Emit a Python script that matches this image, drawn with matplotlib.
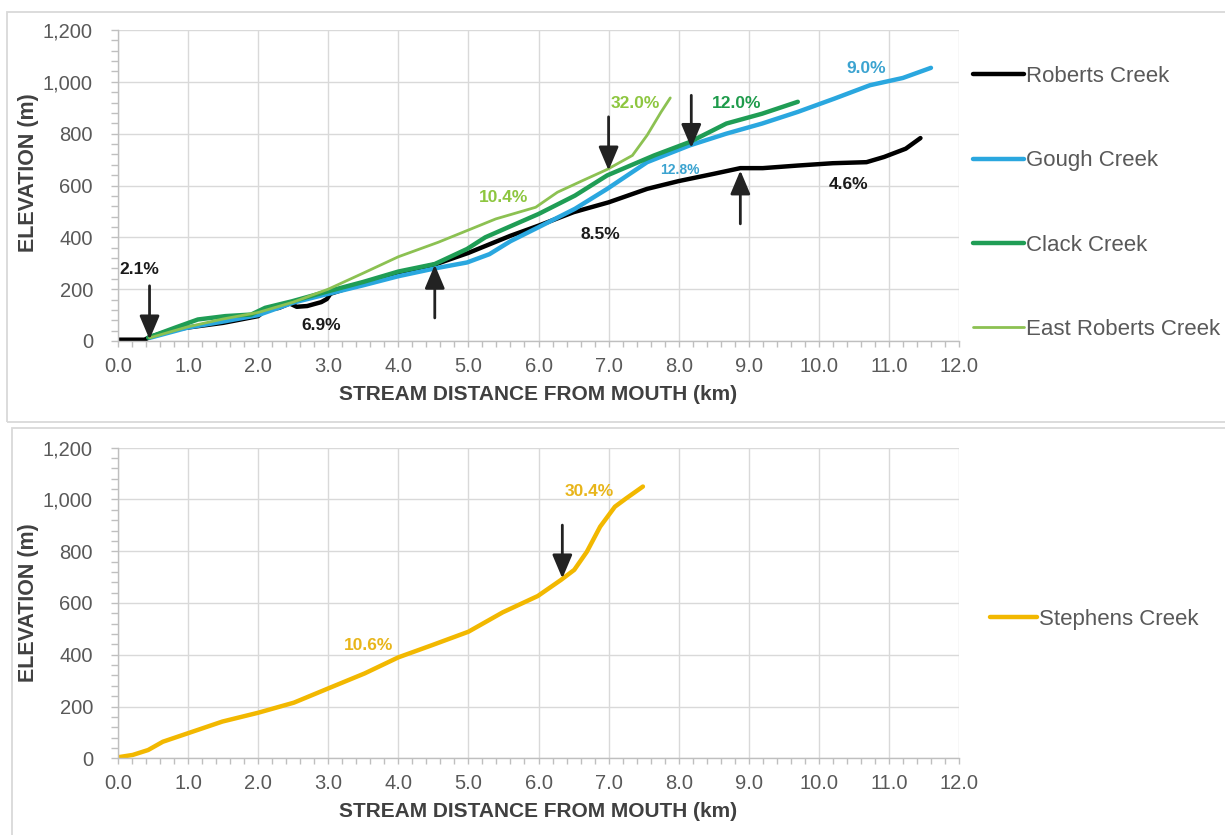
import matplotlib
matplotlib.use("Agg")
import matplotlib.pyplot as plt
from matplotlib.patches import Rectangle
from matplotlib.ticker import MultipleLocator, FuncFormatter

plt.rcParams['font.family'] = ['Liberation Sans', 'DejaVu Sans']

# ---------------- data (km, m) ----------------
roberts_km = [0.0, 0.38, 0.45, 0.8, 1.0, 1.5, 2.0, 2.1, 2.3, 2.45, 2.55, 2.7, 2.9, 2.98, 3.03,
              3.5, 4.0, 4.52, 5.0, 5.6, 6.0, 6.5, 7.0, 7.55, 8.0, 8.5, 8.88, 9.2, 9.7, 10.2,
              10.68, 10.93, 11.24, 11.45]
roberts_m = [5, 5, 15, 45, 52, 70, 96, 118, 128, 145, 132, 135, 150, 162, 182,
             224, 262, 295, 340, 406, 445, 497, 535, 587, 617, 645, 667, 667, 677, 686,
             690, 710, 742, 783]

gough_km = [0.45, 1.0, 1.5, 2.0, 2.5, 3.0, 3.5, 4.0, 4.52, 4.98, 5.3, 5.6, 6.0, 6.52, 6.98,
            7.55, 8.16, 8.68, 9.19, 9.7, 10.22, 10.73, 11.2, 11.6]
gough_m = [12, 52, 75, 100, 148, 182, 215, 250, 280, 303, 335, 385, 439, 510, 587,
           690, 755, 800, 839, 884, 935, 987, 1015, 1054]

clack_km = [0.43, 0.81, 1.14, 1.53, 1.9, 2.1, 2.48, 3.0, 3.5, 4.0, 4.52, 4.98, 5.24, 6.0,
            6.52, 6.98, 7.65, 8.16, 8.68, 9.19, 9.7]
clack_m = [13, 51, 83, 96, 102, 128, 153, 192, 228, 268, 297, 355, 400, 490,
           561, 639, 716, 768, 839, 877, 923]

east_km = [0.45, 1.0, 1.5, 2.0, 2.5, 3.0, 3.5, 4.0, 4.57, 4.98, 5.39, 5.96, 6.27, 6.63,
           6.98, 7.34, 7.55, 7.75, 7.88]
east_m = [12, 55, 85, 110, 150, 200, 262, 325, 381, 426, 471, 516, 574, 619,
          662, 716, 794, 884, 938]

stephens_km = [0.0, 0.21, 0.43, 0.64, 1.0, 1.49, 2.0, 2.51, 3.0, 3.52, 4.0, 4.48, 5.0,
               5.49, 5.99, 6.32, 6.51, 6.69, 6.88, 7.09, 7.25, 7.49]
stephens_m = [4, 13, 32, 64, 97, 142, 176, 215, 270, 328, 390, 437, 489,
              564, 627, 689, 728, 798, 895, 972, 1004, 1050]

# annotations: (text, km, m, color, size)
top_labels = [("2.1%", 0.31, 275, "#1a1a1a", 12.5),
              ("6.9%", 2.90, 58, "#1a1a1a", 12.5),
              ("10.4%", 5.50, 555, "#8dc63f", 12.5),
              ("8.5%", 6.88, 410, "#1a1a1a", 12.5),
              ("32.0%", 7.38, 916, "#8dc63f", 12.5),
              ("12.0%", 8.83, 916, "#1e9b4b", 12.5),
              ("12.8%", 8.02, 658, "#3ba3d0", 10),
              ("4.6%", 10.42, 604, "#1a1a1a", 12.5),
              ("9.0%", 10.68, 1052, "#3ba3d0", 12.5)]
# arrows: (tail_km, tail_m, tip_km, tip_m)
top_arrows = [(0.45, 213, 0.45, 6),
              (4.52, 89, 4.52, 294),
              (7.00, 865, 7.00, 658),
              (8.18, 948, 8.18, 745),
              (8.88, 452, 8.88, 658)]
bottom_labels = [("10.6%", 3.58, 435, "#e8b51a", 12.5),
                 ("30.4%", 6.72, 1030, "#e8b51a", 12.5)]
bottom_arrows = [(6.34, 901, 6.34, 695)]

series_top = [("Roberts Creek", roberts_km, roberts_m, "#000000", 3.2),
              ("Gough Creek", gough_km, gough_m, "#2aa7df", 3.2),
              ("Clack Creek", clack_km, clack_m, "#1f9d55", 3.2),
              ("East Roberts Creek", east_km, east_m, "#8cc152", 2.0)]
series_bottom = [("Stephens Creek", stephens_km, stephens_m, "#f2b800", 3.2)]

W, H = 1225, 835
fig = plt.figure(figsize=(W / 100, H / 100), dpi=100)

# panel frames
fig.add_artist(Rectangle((7 / W, 1 - 422 / H), (1240 - 7) / W, (422 - 12) / H,
                         transform=fig.transFigure, fill=False, ec="#d9d9d9", lw=1.3))
fig.add_artist(Rectangle((12 / W, 1 - 850 / H), (1240 - 12) / W, (850 - 428) / H,
                         transform=fig.transFigure, fill=False, ec="#d9d9d9", lw=1.3))

left, right = 118, 959
ax1 = fig.add_axes([left / W, 1 - 341 / H, (right - left) / W, (341 - 30) / H])
ax2 = fig.add_axes([left / W, 1 - 758.3 / H, (right - left) / W, (758.3 - 447.7) / H])

fmt = FuncFormatter(lambda v, p: f"{int(v):,}")

def style(ax, yl_y):
    ax.set_xlim(0, 12)
    ax.set_ylim(0, 1200)
    ax.xaxis.set_major_locator(MultipleLocator(1))
    ax.xaxis.set_minor_locator(MultipleLocator(0.2))
    ax.yaxis.set_major_locator(MultipleLocator(200))
    ax.yaxis.set_minor_locator(MultipleLocator(40))
    ax.xaxis.set_major_formatter(FuncFormatter(lambda v, p: f"{v:.1f}"))
    ax.yaxis.set_major_formatter(fmt)
    ax.grid(True, which="major", color="#d9d9d9", lw=1.0)
    ax.set_axisbelow(True)
    for s in ["top", "right"]:
        ax.spines[s].set_visible(False)
    for s in ["left", "bottom"]:
        ax.spines[s].set_color("#bfbfbf")
        ax.spines[s].set_linewidth(1.0)
    ax.tick_params(axis="y", which="both", direction="out", length=5, width=1,
                   color="#bfbfbf", labelsize=14.5, labelcolor="#595959", pad=13)
    ax.tick_params(axis="x", which="both", direction="out", length=4.5, width=1,
                   color="#bfbfbf", labelsize=14.5, labelcolor="#595959", pad=7)
    ax.set_xlabel("STREAM DISTANCE FROM MOUTH (km)", fontsize=15, fontweight="bold",
                  color="#404040")
    ax.xaxis.set_label_coords(0.5, -0.14)
    ax.set_ylabel("ELEVATION (m)", fontsize=15.5, fontweight="bold", color="#404040")
    ax.yaxis.set_label_coords(-0.094, yl_y)

style(ax1, 0.54)
style(ax2, 0.50)

for name, xs, ys, c, lw in series_top:
    ax1.plot(xs, ys, color=c, lw=lw, label=name, solid_capstyle="round")
for name, xs, ys, c, lw in series_bottom:
    ax2.plot(xs, ys, color=c, lw=lw, label=name, solid_capstyle="round")

def annotate(ax, labels, arrows):
    for t, x, y, c, s in labels:
        ax.text(x, y, t, color=c, fontsize=s, fontweight="bold", ha="center", va="center")
    for x0, y0, x1, y1 in arrows:
        ax.annotate("", xy=(x1, y1), xytext=(x0, y0),
                    arrowprops=dict(arrowstyle="-|>,head_length=0.9,head_width=0.38",
                                    color="#222222", lw=2.0, mutation_scale=16,
                                    shrinkA=0, shrinkB=0))

annotate(ax1, top_labels, top_arrows)
annotate(ax2, bottom_labels, bottom_arrows)

leg1 = ax1.legend(loc="upper left", bbox_to_anchor=((973 - left) / (right - left), (341 - 66) / 311),
                  frameon=False, fontsize=16, handlelength=2.3, handletextpad=0.1,
                  labelspacing=2.85, borderpad=0, borderaxespad=0)
leg2 = ax2.legend(loc="upper left", bbox_to_anchor=((990 - left) / (right - left), (758.3 - 609) / 310.6),
                  frameon=False, fontsize=16, handlelength=2.1, handletextpad=0.1,
                  borderpad=0, borderaxespad=0)
for leg in (leg1, leg2):
    for t in leg.get_texts():
        t.set_color("#595959")

fig.savefig("out.png", dpi=100, facecolor="white")
